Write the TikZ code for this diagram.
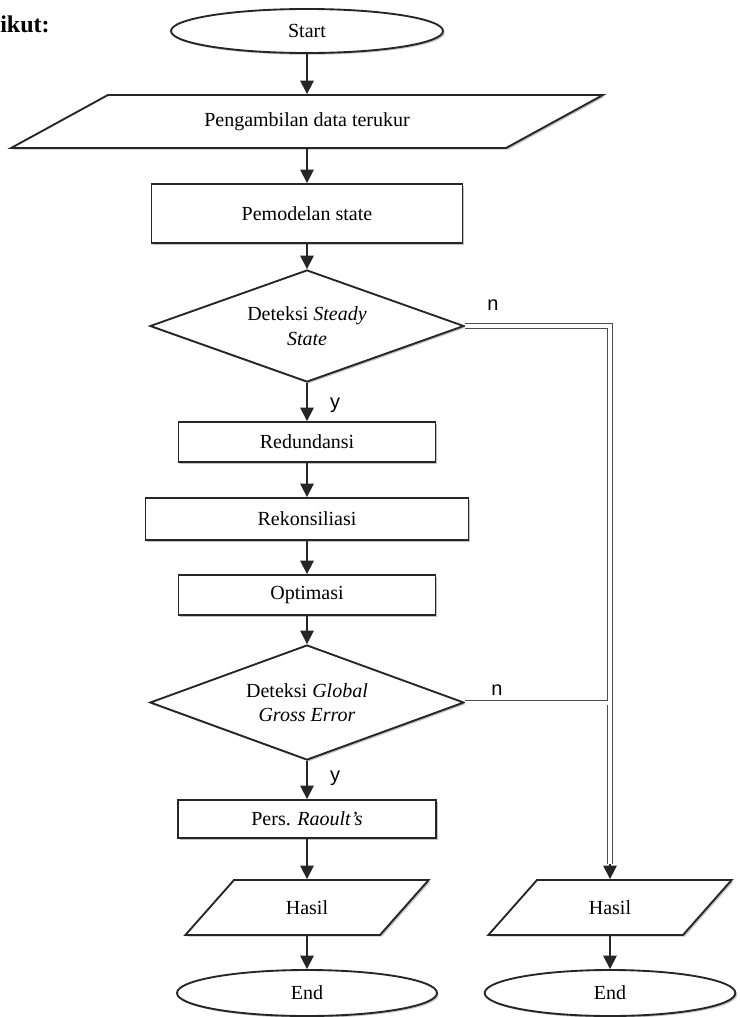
\documentclass[tikz,border=0pt]{standalone}
\usepackage{fontspec}
\setmainfont{Liberation Serif}
\newfontfamily\lblfont{Liberation Sans}
\usetikzlibrary{shapes.geometric,arrows.meta,calc,shadows}
\begin{document}
\begin{tikzpicture}[x=0.75pt,y=-0.75pt,
  base/.style={draw=black!85, line width=1.4pt, fill=white, inner sep=0pt,
    font=\fontsize{15}{18.5}\selectfont,
    drop shadow={shadow xshift=1.3pt, shadow yshift=-1.3pt, fill=black!40, opacity=0.6}},
  procbox/.style={base, rectangle},
  iobox/.style={base, trapezium, trapezium stretches=true},
  decbox/.style={base, diamond, aspect=2.8, align=center},
  termbox/.style={base, ellipse, font=\fontsize{15}{17}\selectfont},
  arr/.style={draw=black!85, line width=1.2pt, -{Triangle[length=10pt,width=10pt]}},
  dbl/.style={draw=black!70, line width=0.6pt, double=white, double distance=3pt},
  lbl/.style={font=\lblfont\fontsize{15}{18}\selectfont, inner sep=0pt}
]
\useasboundingbox (0,0) rectangle (739,1017);
\fill[white] (0,0) rectangle (739,1017);

\node[anchor=west, inner sep=0pt, font=\bfseries\fontsize{18}{21}\selectfont] (ikut) at (0,24) {ikut:};

\node[termbox, minimum width=204pt, minimum height=33pt] (start) at (307,31) {Start};
\node[iobox, trapezium left angle=20, trapezium right angle=160,
      minimum width=445.5pt, minimum height=39.75pt] (p1) at (307,121.5) {Pengambilan data terukur};
\node[procbox, minimum width=233.25pt, minimum height=44.25pt] (pm) at (307,213.5) {Pemodelan state};
\node[decbox, minimum width=235.5pt, minimum height=84pt] (d1) at (307,326) {Deteksi \textit{Steady}\\\textit{State}};
\node[procbox, minimum width=192.75pt, minimum height=30pt] (red) at (307,442) {Redundansi};
\node[procbox, minimum width=242.25pt, minimum height=31.5pt] (rek) at (307,519) {Rekonsiliasi};
\node[procbox, minimum width=192.75pt, minimum height=30pt] (opt) at (307,595) {Optimasi};
\node[decbox, minimum width=235.5pt, minimum height=86.25pt] (d2) at (307,702.5) {Deteksi \textit{Global}\\\textit{Gross Error}};
\node[procbox, minimum width=193.5pt, minimum height=28.5pt] (pers) at (307,819) {Pers. \textit{Raoult's}};
\node[iobox, trapezium left angle=45, trapezium right angle=135,
      minimum width=183pt, minimum height=41.25pt] (h1) at (307,907.5) {Hasil};
\node[termbox, minimum width=195pt, minimum height=34.5pt] (e1) at (307,993) {End};

\node[iobox, trapezium left angle=45, trapezium right angle=135,
      minimum width=183pt, minimum height=41.25pt] (h2) at (610,907.5) {Hasil};
\node[termbox, minimum width=188pt, minimum height=34.5pt] (e2) at (610,993) {End};

\node[lbl] (n1) at (493,305) {n};
\node[lbl] (y1) at (335,405) {y};
\node[lbl] (n2) at (497,690) {n};
\node[lbl] (y2) at (335,778) {y};

\draw[arr] (start.south) -- (p1.north);
\draw[arr] (p1.south) -- (pm.north);
\draw[arr] (pm.south) -- (d1.north);
\draw[arr] (d1.south) -- (red.north);
\draw[arr] (red.south) -- (rek.north);
\draw[arr] (rek.south) -- (opt.north);
\draw[arr] (opt.south) -- (d2.north);
\draw[arr] (d2.south) -- (pers.north);
\draw[arr] (pers.south) -- (h1.north);
\draw[arr] (h1.south) -- (e1.north);
\draw[arr] (h2.south) -- (e2.north);

\coordinate (k) at ($(h2.north)+(0,-15)$);
\draw[dbl] (d1.east) -| (k);
\draw[dbl] (d2.east) -- ($(d2.east -| k)+(-2.5,0)$);
\draw[arr] (k) -- (h2.north);
\end{tikzpicture}
\end{document}
